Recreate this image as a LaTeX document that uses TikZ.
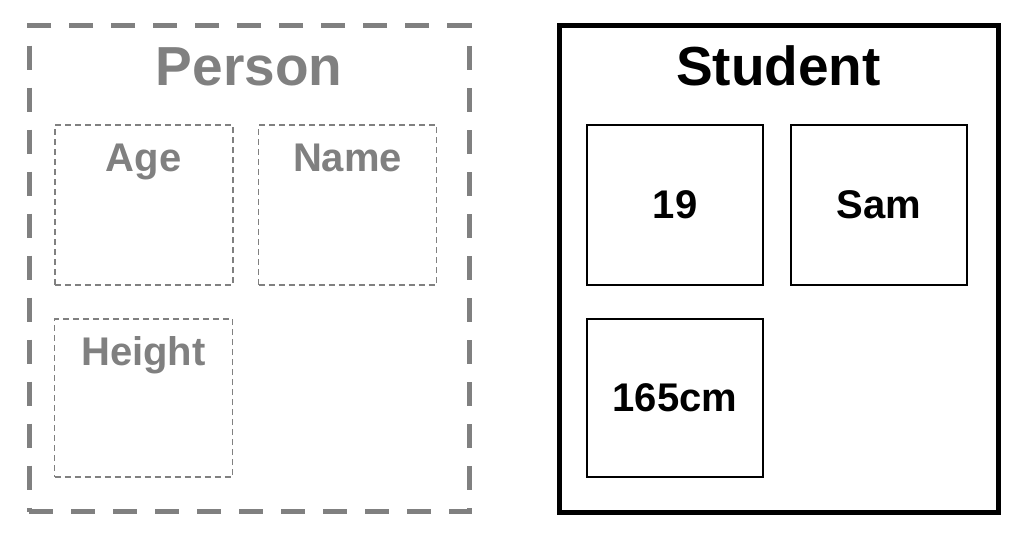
\documentclass[tikz,border=0pt]{standalone}
\usepackage{fontspec}
\setmainfont{Liberation Sans}
\definecolor{pgray}{HTML}{808080}
\begin{document}
\begin{tikzpicture}[x=1pt,y=-1pt,
  outerp/.style={draw=pgray,line width=5pt,dash pattern=on 24pt off 18pt,minimum width=440pt,minimum height=486pt,inner sep=0pt},
  outers/.style={draw=black,line width=5pt,minimum width=439pt,minimum height=487pt,inner sep=0pt},
  slotp/.style={draw=pgray,line width=1.6pt,dash pattern=on 6pt off 4pt,minimum width=178pt,inner sep=0pt},
  slots/.style={draw=black,line width=2pt,minimum width=176pt,inner sep=0pt,font=\fontsize{40}{48}\selectfont\bfseries},
  title/.style={anchor=base,inner sep=0pt,font=\fontsize{55}{64}\selectfont\bfseries},
  lbl/.style={anchor=base,inner sep=0pt,text=pgray,font=\fontsize{40}{48}\selectfont\bfseries}]
\useasboundingbox (0,0) rectangle (1026,536);
% Person
\node[outerp] (person) at (249,268.5) {};
\node[title,text=pgray] (ptitle) at (249,85) {Person};
\node[slotp,minimum height=160pt] (age) at (143.75,205) {};
\node[slotp,minimum height=160pt] (name) at (347.5,205) {};
\node[slotp,minimum height=158pt] (height) at (143.5,398) {};
\node[lbl] (agel) at (143.75,171) {Age};
\node[lbl] (namel) at (347.5,171) {Name};
\node[lbl] (heightl) at (143.5,365) {Height};
% Student
\node[outers] (student) at (778.5,268.5) {};
\node[title] (stitle) at (778.5,85) {Student};
\node[slots,minimum height=160pt] (v19) at (675,205) {19};
\node[slots,minimum height=160pt] (vsam) at (879,205) {Sam};
\node[slots,minimum height=158pt] (v165) at (675,397.5) {165cm};
\end{tikzpicture}
\end{document}
